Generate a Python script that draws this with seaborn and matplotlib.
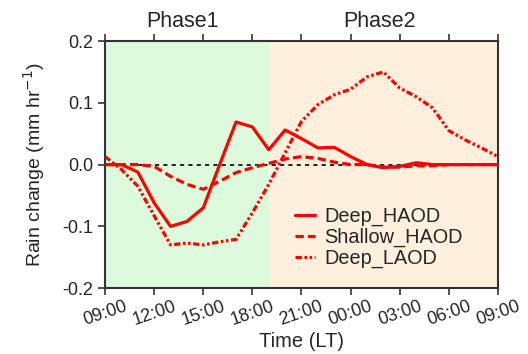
import numpy as np
import pandas as pd
import matplotlib
matplotlib.use("Agg")
import matplotlib.pyplot as plt
import matplotlib.transforms as mtransforms
import seaborn as sns

# hourly values, 09:00 LT to 09:00 LT next day
hours = list(range(25))
deep_haod = [0.0, 0.0, -0.012, -0.062, -0.100, -0.092, -0.070, 0.0, 0.069, 0.061,
             0.024, 0.056, 0.042, 0.027, 0.028, 0.013, 0.0, -0.005, -0.003, 0.003,
             0.0, 0.0, 0.0, 0.0, 0.0]
shallow_haod = [0.0, 0.0, 0.0, -0.003, -0.019, -0.032, -0.040, -0.027, -0.013, -0.005,
                0.002, 0.009, 0.013, 0.010, 0.004, 0.0, 0.0, -0.004, -0.004, -0.002,
                -0.002, 0.0, 0.0, 0.0, 0.0]
deep_laod = [0.013, -0.008, -0.035, -0.083, -0.130, -0.127, -0.130, -0.125, -0.121, -0.078,
             -0.032, 0.019, 0.070, 0.097, 0.113, 0.122, 0.142, 0.150, 0.124, 0.110,
             0.092, 0.055, 0.040, 0.027, 0.013]

tick_hours = [0, 3, 6, 9, 12, 15, 18, 21, 24]
tick_labels = ["09:00", "12:00", "15:00", "18:00", "21:00", "00:00", "03:00", "06:00", "09:00"]
phase_split = 10  # 19:00 LT

df = pd.DataFrame({
    "hour": hours * 3,
    "value": deep_haod + shallow_haod + deep_laod,
    "series": ["Deep_HAOD"] * 25 + ["Shallow_HAOD"] * 25 + ["Deep_LAOD"] * 25,
})

sns.set_style("ticks")
plt.rcParams["font.family"] = ["Liberation Sans", "DejaVu Sans"]

fig = plt.figure(figsize=(5.28, 3.54), dpi=100)
ax = fig.add_axes([0.199, 0.186, 0.744, 0.698])

ax.axvspan(0, phase_split, color="#ddfadd", zorder=0, lw=0)
ax.axvspan(phase_split, 24, color="#fef0dd", zorder=0, lw=0)
ax.axhline(0, color="black", lw=1.2, ls=(0, (2.5, 2.5)), zorder=1)

sns.lineplot(data=df, x="hour", y="value", hue="series", style="series",
             palette=["red"] * 3,
             dashes={"Deep_HAOD": "", "Shallow_HAOD": (2.6, 1.3),
                     "Deep_LAOD": (2.0, 0.8, 0.8, 0.8, 0.8, 0.8)},
             linewidth=2.3, ax=ax, zorder=3)

ax.set_xlim(0, 24)
ax.set_ylim(-0.2, 0.2)
ax.set_yticks([-0.2, -0.1, 0.0, 0.1, 0.2])
ax.set_yticklabels(["-0.2", "-0.1", "0.0", "0.1", "0.2"])
ax.set_xticks(tick_hours)
ax.set_xticklabels(tick_labels, rotation=19, ha="center")
offset = mtransforms.ScaledTranslation(8 / 100, 0, fig.dpi_scale_trans)
for lab in ax.get_xticklabels():
    lab.set_transform(lab.get_transform() + offset)

ax.tick_params(axis="both", labelsize=13, direction="out", length=5, width=1.2, color="#333333")
ax.tick_params(axis="x", top=True, pad=2)
for s in ax.spines.values():
    s.set_linewidth(1.5)
    s.set_color("#333333")
    s.set_visible(True)

ax.set_xlabel("Time (LT)", fontsize=14.5, labelpad=2)
ax.set_ylabel("Rain change (mm hr$^{-1}$)", fontsize=14, labelpad=11)

ax.text(4.7, 1.035, "Phase1", transform=ax.get_xaxis_transform(),
        ha="center", va="bottom", fontsize=15.5)
ax.text(16.8, 1.035, "Phase2", transform=ax.get_xaxis_transform(),
        ha="center", va="bottom", fontsize=15.5)

leg = ax.legend(loc="upper left", bbox_to_anchor=(0.483, 0.33), frameon=False,
                fontsize=14.3, handlelength=1.0, handletextpad=0.5, labelspacing=0.1,
                borderpad=0, borderaxespad=0)
for line in leg.get_lines():
    line.set_linewidth(2.3)

fig.savefig("out.png", dpi=100)
